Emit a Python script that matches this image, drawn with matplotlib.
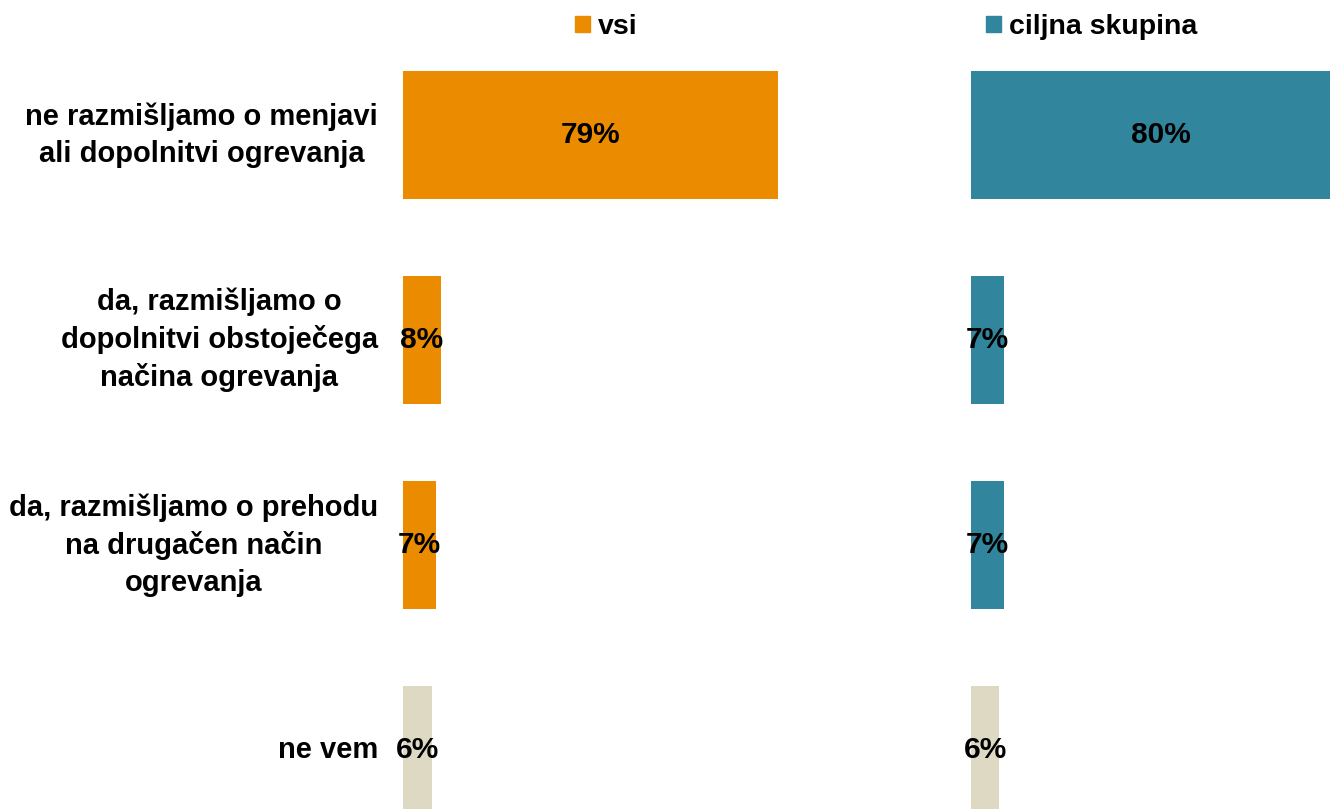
import matplotlib.pyplot as plt
from matplotlib.patches import Patch

plt.rcParams['font.family'] = ['Liberation Sans', 'DejaVu Sans']
plt.rcParams['font.weight'] = 'bold'

kategorije = ['ne razmišljamo o menjavi\nali dopolnitvi ogrevanja',
              'da, razmišljamo o\ndopolnitvi obstoječega\nnačina ogrevanja',
              'da, razmišljamo o prehodu\nna drugačen način\nogrevanja',
              'ne vem']
vsi = [79, 8, 7, 6]
ciljna = [80, 7, 7, 6]
serije = ['vsi', 'ciljna skupina']

oranzna = '#EB8C00'
modra = '#31859C'
bez = '#DDD9C3'

W, H = 1330, 809
fig = plt.figure(figsize=(W / 100, H / 100), dpi=100)

# os: 100 % = 475 px, vrstice na 135 + 205*i px
y_top = -135 / 205
y_bot = (H - 135) / 205
ax1 = fig.add_axes([403 / W, 0, 475 / W, 1])
ax2 = fig.add_axes([971 / W, 0, 475 / W, 1])

pos = list(range(len(kategorije)))
for ax, vals, col, ime, lx in [(ax1, vsi, oranzna, serije[0], 575),
                                (ax2, ciljna, modra, serije[1], 986)]:
    barve = [col] * (len(vals) - 1) + [bez]
    ax.barh(pos, vals, height=0.62, color=barve)
    for p, v in zip(pos, vals):
        ax.text(v / 2, p, f'{v}%', ha='center', va='center',
                fontsize=21.5, fontweight='bold', color='black')
    ax.set_xlim(0, 100)
    ax.set_ylim(y_bot, y_top)
    ax.axis('off')
    fig.legend(handles=[Patch(color=col)], labels=[ime], loc='center left',
               bbox_to_anchor=(lx / W, 1 - 27 / H), frameon=False,
               handlelength=0.53, handleheight=0.53, handletextpad=0.28,
               borderpad=0, borderaxespad=0,
               prop={'size': 20.5, 'weight': 'bold'})

for p, k in zip(pos, kategorije):
    ax1.annotate(k, xy=(0, p), xycoords='data', xytext=(-25, 0),
                 textcoords='offset pixels', ha='right', va='center',
                 multialignment='center', fontsize=21, fontweight='bold',
                 linespacing=1.4)

plt.savefig('out.png', dpi=100)
